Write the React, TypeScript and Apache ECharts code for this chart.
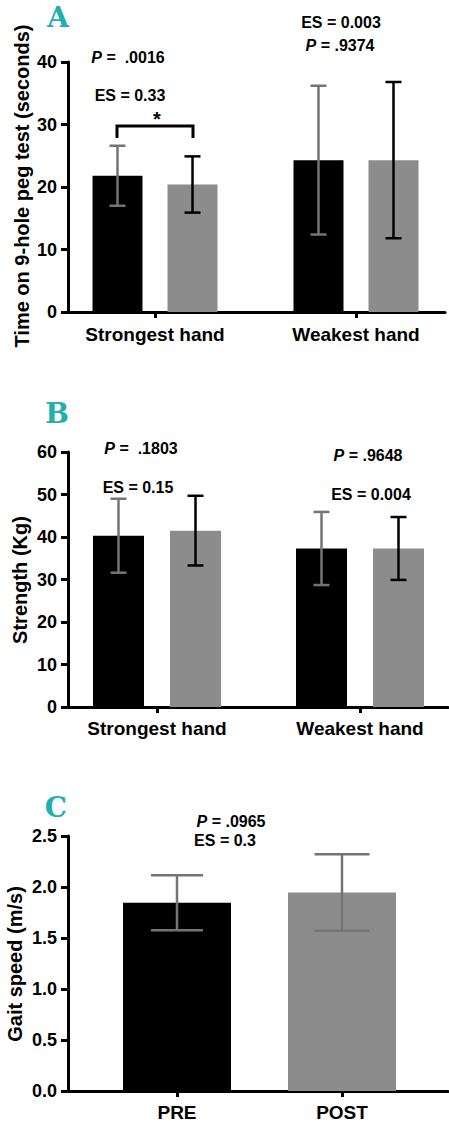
import React, { useEffect, useRef } from "react";
import * as echarts from "echarts";

// Panel A: 9-hole peg test (seconds)
const categoriesA = ["Strongest hand", "Weakest hand"];
const preMeanA = [21.8, 24.3];
const preSdA = [4.8, 11.9];
const postMeanA = [20.4, 24.3];
const postSdA = [4.5, 12.5];
const ticksA = [0, 10, 20, 30, 40];

// Panel B: Strength (Kg)
const categoriesB = ["Strongest hand", "Weakest hand"];
const preMeanB = [40.3, 37.3];
const preSdB = [8.7, 8.6];
const postMeanB = [41.5, 37.3];
const postSdB = [8.2, 7.4];
const ticksB = [0, 10, 20, 30, 40, 50, 60];

// Panel C: Gait speed (m/s)
const categoriesC = ["PRE", "POST"];
const meanC = [1.845, 1.945];
const sdC = [0.27, 0.375];
const ticksC = [0, 0.5, 1.0, 1.5, 2.0, 2.5];

const FONT = "Liberation Sans, Arial, sans-serif";
const TEAL = "#1db0ae";
const GREY = "#8c8c8c";
const ERR_GREY = "#747474";

function toData(means: number[], sds: number[]) {
  return means.map((m, i) => [i + 1, m, sds[i]]);
}

function makeRender(offsetPx: number, widthPx: number, fill: string, errColor: string, capPx: number) {
  return (params: any, api: any) => {
    const x = api.value(0);
    const m = api.value(1);
    const sd = api.value(2);
    const top = api.coord([x, m]);
    const base = api.coord([x, 0]);
    const hi = api.coord([x, m + sd]);
    const lo = api.coord([x, m - sd]);
    const cx = top[0] + offsetPx;
    return {
      type: "group",
      children: [
        {
          type: "rect",
          shape: { x: cx - widthPx / 2, y: top[1], width: widthPx, height: base[1] - top[1] },
          style: { fill },
        },
        {
          type: "line",
          shape: { x1: cx, y1: hi[1], x2: cx, y2: lo[1] },
          style: { stroke: errColor, lineWidth: 2.5 },
        },
        {
          type: "line",
          shape: { x1: cx - capPx / 2, y1: hi[1], x2: cx + capPx / 2, y2: hi[1] },
          style: { stroke: errColor, lineWidth: 2.5 },
        },
        {
          type: "line",
          shape: { x1: cx - capPx / 2, y1: lo[1], x2: cx + capPx / 2, y2: lo[1] },
          style: { stroke: errColor, lineWidth: 2.5 },
        },
      ],
    };
  };
}

function xAxisDef(idx: number, min: number, max: number, cats: string[], margin: number) {
  return {
    type: "value",
    gridIndex: idx,
    min,
    max,
    splitLine: { show: false },
    axisLine: { show: true, onZero: false, lineStyle: { color: "#000", width: 3 } },
    axisTick: { show: true, customValues: [1, 2], length: 6, lineStyle: { color: "#000", width: 3 } },
    axisLabel: {
      show: true,
      customValues: [1, 2],
      margin,
      formatter: (v: number) => cats[Math.round(v) - 1] || "",
      color: "#000",
      fontFamily: FONT,
      fontWeight: "bold",
      fontSize: 19,
    },
  };
}

function yAxisDef(idx: number, ticks: number[], decimals: number) {
  return {
    type: "value",
    gridIndex: idx,
    min: ticks[0],
    max: ticks[ticks.length - 1],
    interval: ticks[1] - ticks[0],
    splitLine: { show: false },
    axisLine: { show: true, lineStyle: { color: "#000", width: 3 } },
    axisTick: { show: true, length: 7, lineStyle: { color: "#000", width: 3 } },
    axisLabel: {
      color: "#000",
      fontFamily: FONT,
      fontWeight: "bold",
      fontSize: 18,
      margin: 11,
      formatter: (v: number) => v.toFixed(decimals),
    },
  };
}

function pText(x: number, y: number, num: string) {
  return {
    type: "text",
    x,
    y,
    style: {
      text: "{i|P}{n|" + num + "}",
      align: "center",
      verticalAlign: "middle",
      fontSize: 16,
      fontFamily: FONT,
      fontWeight: "bold",
      rich: {
        i: { fontFamily: FONT, fontWeight: "bold", fontStyle: "italic", fontSize: 16, fill: "#000" },
        n: { fontFamily: FONT, fontWeight: "bold", fontSize: 16, fill: "#000" },
      },
    },
  };
}

function plainText(x: number, y: number, text: string, size = 15) {
  return {
    type: "text",
    x,
    y,
    style: {
      text,
      align: "center",
      verticalAlign: "middle",
      fontFamily: FONT,
      fontWeight: "bold",
      fontSize: size,
      fill: "#000",
    },
  };
}

function letter(x: number, y: number, text: string) {
  return {
    type: "text",
    x,
    y,
    style: {
      text,
      align: "center",
      verticalAlign: "middle",
      fontFamily: "DejaVu Serif, serif",
      fontWeight: "bold",
      fontSize: 28,
      fill: TEAL,
    },
  };
}

function yTitle(x: number, y: number, text: string) {
  return {
    type: "text",
    x,
    y,
    rotation: Math.PI / 2,
    style: {
      text,
      align: "center",
      verticalAlign: "middle",
      fontFamily: FONT,
      fontWeight: "bold",
      fontSize: 20,
      fill: "#000",
    },
  };
}

export default function App() {
  const ref = useRef<HTMLDivElement>(null);
  useEffect(() => {
    document.body.style.margin = "0";
    const chart = echarts.init(ref.current!, null, { renderer: "svg" });
    chart.setOption({
      animation: false,
      backgroundColor: "#fff",
      grid: [
        { left: 68, top: 62, width: 377, height: 250 },
        { left: 68, top: 452, width: 380, height: 255 },
        { left: 68, top: 836, width: 380, height: 255 },
      ],
      xAxis: [
        xAxisDef(0, 1 - 87 / 201, 2 + 89 / 201, categoriesA, 13),
        xAxisDef(1, 1 - 89 / 203, 2 + 88 / 203, categoriesB, 12),
        xAxisDef(2, 1 - 109 / 165, 2 + 106 / 165, categoriesC, 12),
      ],
      yAxis: [yAxisDef(0, ticksA, 0), yAxisDef(1, ticksB, 0), yAxisDef(2, ticksC, 1)],
      series: [
        { type: "custom", xAxisIndex: 0, yAxisIndex: 0, data: toData(preMeanA, preSdA), renderItem: makeRender(-37.5, 50, "#000", ERR_GREY, 16) },
        { type: "custom", xAxisIndex: 0, yAxisIndex: 0, data: toData(postMeanA, postSdA), renderItem: makeRender(37.5, 50, GREY, "#000", 16) },
        { type: "custom", xAxisIndex: 1, yAxisIndex: 1, data: toData(preMeanB, preSdB), renderItem: makeRender(-38.5, 51, "#000", ERR_GREY, 16) },
        { type: "custom", xAxisIndex: 1, yAxisIndex: 1, data: toData(postMeanB, postSdB), renderItem: makeRender(38.5, 51, GREY, "#000", 16) },
        {
          type: "custom",
          xAxisIndex: 2,
          yAxisIndex: 2,
          data: toData(meanC, sdC),
          renderItem: (params: any, api: any) => {
            const i = params.dataIndex;
            const r = makeRender(0, 108, i === 0 ? "#000" : GREY, ERR_GREY, i === 0 ? 52 : 55);
            return r(params, api);
          },
        },
      ],
      graphic: [
        letter(58, 17, "A"),
        letter(57, 413, "B"),
        letter(56, 807, "C"),
        yTitle(22, 186, "Time on 9-hole peg test (seconds)"),
        yTitle(20, 580, "Strength (Kg)"),
        yTitle(15, 964, "Gait speed (m/s)"),
        pText(128, 57, " =  .0016"),
        plainText(130, 95, "ES = 0.33", 16),
        plainText(341, 22, "ES = 0.003", 16),
        pText(340, 45, " = .9374"),
        {
          type: "polyline",
          shape: { points: [[117, 138], [117, 126], [193, 126], [193, 138]] },
          style: { stroke: "#000", lineWidth: 3, fill: "none" },
        },
        plainText(157, 119, "*", 20),
        pText(141, 448, " =  .1803"),
        plainText(138, 487, "ES = 0.15", 16),
        pText(368, 455, " = .9648"),
        plainText(371, 494, "ES = 0.004", 16),
        pText(231, 821, " = .0965"),
        plainText(225, 840, "ES = 0.3", 16),
      ],
    });
    return () => chart.dispose();
  }, []);
  return <div ref={ref} style={{ width: 449, height: 1123 }} />;
}
